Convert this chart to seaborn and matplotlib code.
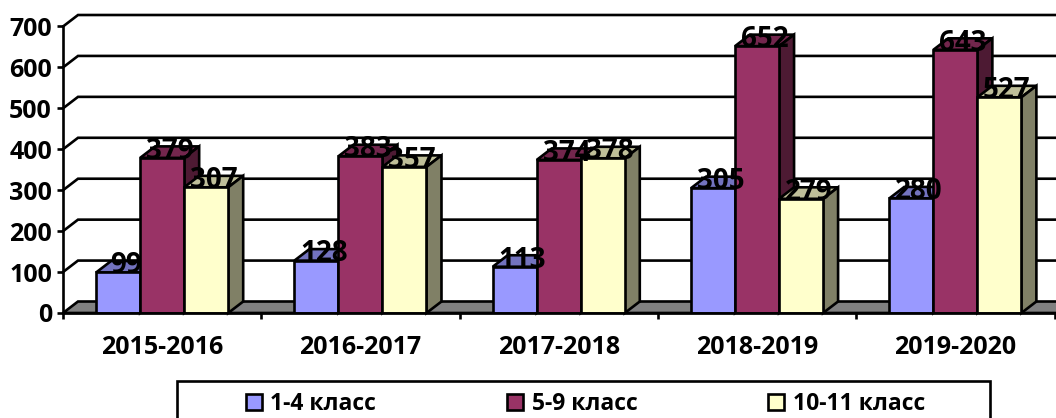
import numpy as np
import pandas as pd
import matplotlib.pyplot as plt
import seaborn as sns
from matplotlib.colors import to_rgb
from matplotlib.patches import Polygon, Rectangle

years = ["2015-2016", "2016-2017", "2017-2018", "2018-2019", "2019-2020"]
grade_1_4 = [99, 128, 113, 305, 280]
grade_5_9 = [379, 383, 374, 652, 643]
grade_10_11 = [307, 357, 378, 279, 527]
series_names = ["1-4 класс", "5-9 класс", "10-11 класс"]
colors = ["#9999FF", "#993366", "#FFFFCC"]
y_ticks = [0, 100, 200, 300, 400, 500, 600, 700]

W, H = 1056, 418
LINE = 1.9
# fake 3d depth, in data units (15 px right, 12 px up)
DX = 15 / 198.3
DY = 11.5 / (286.5 / 700)


def shade(color, k):
    return tuple(c * k for c in to_rgb(color))


df = pd.DataFrame({
    "year": years * 3,
    "value": grade_1_4 + grade_5_9 + grade_10_11,
    "series": np.repeat(series_names, len(years)),
})

sns.set_style("white")
plt.rcParams["font.family"] = ["Open Sans", "DejaVu Sans"]

fig = plt.figure(figsize=(W / 100, H / 100), dpi=100)
ax = fig.add_axes([63 / W, 1 - 313 / H, 991.5 / W, 286.5 / H])
ax.patch.set_alpha(0)

sns.barplot(data=df, x="year", y="value", hue="series", palette=colors,
            width=0.666, gap=0, saturation=1, edgecolor="black",
            linewidth=LINE, zorder=5, ax=ax)
handles, labels = ax.get_legend_handles_labels()
ax.legend_.remove()

ax.set_xlim(-0.5, 4.5)
ax.set_ylim(0, 700)
ax.set_xlabel("")
ax.set_ylabel("")

# back wall lines and floor
x0, x1 = -0.5, 4.6
for v in y_ticks[1:]:
    ax.plot([x0, x0 + DX, x1], [v, v + DY, v + DY], color="black", lw=LINE,
            zorder=1, clip_on=False, solid_joinstyle="miter")
ax.add_patch(Polygon([(x0, 0), (x0 + DX, DY), (x1, DY), (x1, 0)], closed=True,
                     facecolor="#808080", edgecolor="black", lw=LINE,
                     zorder=2, clip_on=False))

# top and side faces, left to right so nearer faces cover the older ones
bars = []
for container, color in zip(ax.containers, colors):
    for bar in container:
        bars.append((bar, color))
bars.sort(key=lambda b: b[0].get_x())

for bar, color in bars:
    x, w, h = bar.get_x(), bar.get_width(), bar.get_height()
    top = [(x, h), (x + DX, h + DY), (x + w + DX, h + DY), (x + w, h)]
    side = [(x + w, 0), (x + w + DX, DY), (x + w + DX, h + DY), (x + w, h)]
    ax.add_patch(Polygon(top, closed=True, facecolor=shade(color, 0.75),
                         edgecolor="black", lw=LINE, zorder=3, clip_on=False))
    ax.add_patch(Polygon(side, closed=True, facecolor=shade(color, 0.5),
                         edgecolor="black", lw=LINE, zorder=3, clip_on=False))
    ax.text(x + w / 2 + DX / 2, h - 2, f"{h:.0f}", ha="center", va="baseline",
            fontsize=20, fontweight="bold", color="black", zorder=10,
            clip_on=False)

sns.despine(ax=ax, top=True, right=True)
for side in ["left", "bottom"]:
    ax.spines[side].set_linewidth(LINE)
    ax.spines[side].set_color("black")
    ax.spines[side].set_zorder(6)

ax.set_yticks(y_ticks)
ax.set_xticks(np.arange(-0.5, 5), minor=True)
ax.tick_params(axis="y", length=4, width=LINE, color="black", pad=4,
               left=True, labelsize=18)
ax.tick_params(axis="x", which="major", length=0, pad=16, labelsize=18)
ax.tick_params(axis="x", which="minor", length=4, width=LINE, color="black",
               bottom=True)
for label in ax.get_xticklabels() + ax.get_yticklabels():
    label.set_fontweight("bold")
    label.set_color("black")

# legend frame runs off the bottom of the image
fig.add_artist(Rectangle((177 / W, -0.1), 813 / W, 0.1 + 1 - 381 / H,
                         transform=fig.transFigure, facecolor="white",
                         edgecolor="black", lw=LINE))
leg = fig.legend(handles, labels, loc="center", bbox_to_anchor=(585.5 / W, 1 - 404 / H),
                 ncol=3, frameon=False, columnspacing=5.72, handlelength=0.68,
                 handleheight=0.68, handletextpad=0.38, borderpad=0,
                 prop={"family": ["Open Sans", "DejaVu Sans"], "weight": "bold", "size": 16.5})
leg.set_zorder(20)
for text in leg.get_texts():
    text.set_color("black")

fig.savefig("out.png", dpi=100)
plt.close(fig)
